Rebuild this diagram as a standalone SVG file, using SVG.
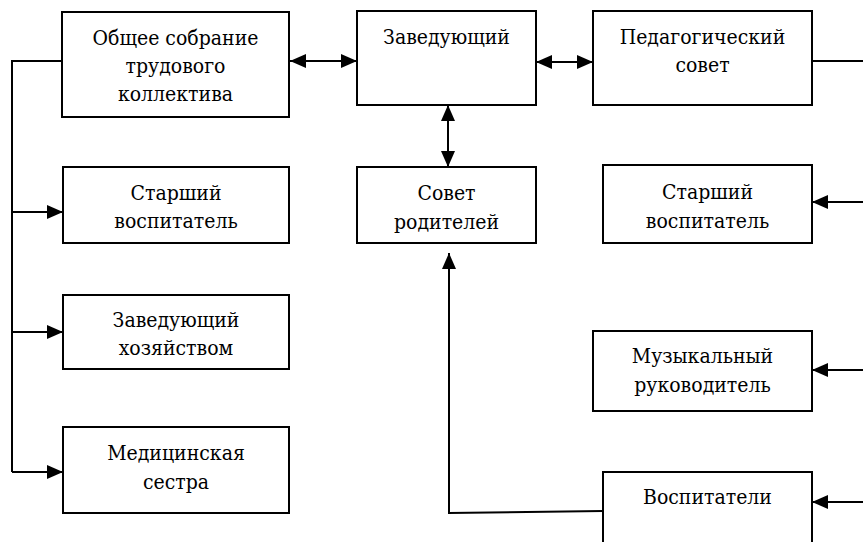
<svg xmlns="http://www.w3.org/2000/svg" width="863" height="542" viewBox="0 0 863 542">
<style>
.box{fill:#fff;stroke:#000;stroke-width:2}
.t{font-family:'DejaVu Serif Condensed','DejaVu Serif',serif;font-stretch:condensed;font-size:21px;fill:#000;text-anchor:middle}
.c{fill:none;stroke:#000;stroke-width:2}
</style>
<defs>
<marker id="ah" viewBox="0 0 16 14" refX="16" refY="7" markerWidth="16" markerHeight="14" markerUnits="userSpaceOnUse" orient="auto-start-reverse">
<path d="M0,0 L16,7 L0,14 Z" fill="#000"/>
</marker>
</defs>
<rect width="863" height="542" fill="#fff"/>
<g id="connectors">
<line class="c" x1="290" y1="61" x2="357" y2="61" marker-start="url(#ah)" marker-end="url(#ah)"/>
<line class="c" x1="536" y1="62" x2="593" y2="62" marker-start="url(#ah)" marker-end="url(#ah)"/>
<line class="c" x1="448" y1="105" x2="448" y2="167" marker-start="url(#ah)" marker-end="url(#ah)"/>
<polyline class="c" points="62,61 12,61 12,472"/>
<line class="c" x1="12" y1="212" x2="63" y2="212" marker-end="url(#ah)"/>
<line class="c" x1="12" y1="332" x2="63" y2="332" marker-end="url(#ah)"/>
<line class="c" x1="12" y1="472" x2="63" y2="472" marker-end="url(#ah)"/>
<polyline class="c" points="603,511 449,513 449,253" marker-end="url(#ah)"/>
<line class="c" x1="812" y1="61" x2="863" y2="61"/>
<line class="c" x1="863" y1="202" x2="812" y2="202" marker-end="url(#ah)"/>
<line class="c" x1="863" y1="370" x2="812" y2="370" marker-end="url(#ah)"/>
<line class="c" x1="863" y1="502" x2="812" y2="502" marker-end="url(#ah)"/>
</g>
<g id="obshchee">
<rect class="box" x="62" y="12" width="227" height="105"/>
<text class="t" x="175.5" y="45">Общее собрание</text>
<text class="t" x="175.5" y="73">трудового</text>
<text class="t" x="175.5" y="101">коллектива</text>
</g>
<g id="zaveduyushchiy">
<rect class="box" x="357" y="11" width="179" height="94"/>
<text class="t" x="446.5" y="44">Заведующий</text>
</g>
<g id="pedsovet">
<rect class="box" x="593" y="11" width="219" height="94"/>
<text class="t" x="702.5" y="44">Педагогический</text>
<text class="t" x="702.5" y="72">совет</text>
</g>
<g id="starshiy-left">
<rect class="box" x="63" y="167" width="226" height="76"/>
<text class="t" x="176" y="200">Старший</text>
<text class="t" x="176" y="228">воспитатель</text>
</g>
<g id="sovet-roditeley">
<rect class="box" x="357" y="167" width="179" height="76"/>
<text class="t" x="446.5" y="200">Совет</text>
<text class="t" x="446.5" y="229">родителей</text>
</g>
<g id="starshiy-right">
<rect class="box" x="603" y="165" width="209" height="78"/>
<text class="t" x="707.5" y="199">Старший</text>
<text class="t" x="707.5" y="228">воспитатель</text>
</g>
<g id="zavhoz">
<rect class="box" x="63" y="295" width="226" height="74"/>
<text class="t" x="176" y="327">Заведующий</text>
<text class="t" x="176" y="355">хозяйством</text>
</g>
<g id="muzruk">
<rect class="box" x="593" y="331" width="219" height="80"/>
<text class="t" x="702.5" y="363">Музыкальный</text>
<text class="t" x="702.5" y="392">руководитель</text>
</g>
<g id="medsestra">
<rect class="box" x="63" y="427" width="226" height="86"/>
<text class="t" x="176" y="460">Медицинская</text>
<text class="t" x="176" y="489">сестра</text>
</g>
<g id="vospitateli">
<rect class="box" x="603" y="472" width="209" height="80"/>
<text class="t" x="707.5" y="504">Воспитатели</text>
</g>
</svg>
